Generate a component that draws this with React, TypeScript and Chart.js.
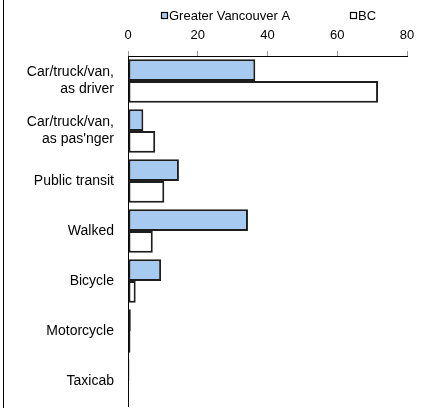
import React, { useEffect, useRef } from "react";
import { Chart, registerables } from "chart.js";

Chart.register(...registerables);

const categories: (string | string[])[] = [
  ["Car/truck/van,", "as driver"],
  ["Car/truck/van,", "as pas'nger"],
  "Public transit",
  "Walked",
  "Bicycle",
  "Motorcycle",
  "Taxicab",
];
const seriesNames = ["Greater Vancouver A", "BC"];
const greaterVancouver = [36.5, 4.4, 14.6, 34.4, 9.5, 0.8, 0.4];
const bc = [71.7, 7.8, 10.4, 7.1, 2.2, 0.7, 0.3];
const xTickMin = 0;
const xTickMax = 80;
const xTickStep = 20;

const FONT = "'Liberation Sans', Arial, sans-serif";
const BLUE = "#a6caf0";
const EDGE = "#1e1e1e";

const legendPlugin = {
  id: "customLegend",
  afterDraw(chart: any) {
    const ctx = chart.ctx;
    ctx.save();
    const items = [
      { name: seriesNames[0], fill: BLUE, x: 161 },
      { name: seriesNames[1], fill: "#ffffff", x: 350 },
    ];
    ctx.font = `13px ${FONT}`;
    ctx.textBaseline = "middle";
    ctx.textAlign = "left";
    for (const it of items) {
      ctx.fillStyle = it.fill;
      ctx.fillRect(it.x, 12, 6, 6);
      ctx.strokeStyle = "#000";
      ctx.lineWidth = 1.2;
      ctx.strokeRect(it.x + 0.5, 12.5, 6, 6);
      ctx.fillStyle = "#000";
      ctx.fillText(it.name, it.x + 8, 16);
    }
    // left frame line
    ctx.fillStyle = "#000";
    ctx.fillRect(3, 0, 1, chart.height);
    ctx.restore();
  },
};

export default function App() {
  const ref = useRef<HTMLCanvasElement>(null);
  useEffect(() => {
    if (!ref.current) return;
    const chart = new Chart(ref.current, {
      type: "bar",
      data: {
        labels: categories as any,
        datasets: [
          {
            label: seriesNames[0],
            data: greaterVancouver,
            backgroundColor: BLUE,
            borderColor: EDGE,
            borderWidth: 2,
            borderSkipped: false,
            categoryPercentage: 0.87,
            barPercentage: 1,
          },
          {
            label: seriesNames[1],
            data: bc,
            backgroundColor: "#ffffff",
            borderColor: EDGE,
            borderWidth: 2,
            borderSkipped: false,
            categoryPercentage: 0.87,
            barPercentage: 1,
          },
        ],
      },
      options: {
        indexAxis: "y",
        animation: false,
        responsive: true,
        maintainAspectRatio: false,
        layout: { padding: { top: 0, left: 0, right: 18, bottom: 2 } },
        plugins: {
          legend: { display: false },
          tooltip: { enabled: false },
          title: { display: false },
        },
        scales: {
          x: {
            position: "top",
            min: xTickMin,
            max: xTickMax,
            ticks: {
              stepSize: xTickStep,
              color: "#000",
              font: { family: FONT, size: 13 },
              padding: 8,
            },
            grid: {
              drawOnChartArea: false,
              drawTicks: true,
              tickLength: 5,
              color: "#999",
            },
            border: { display: true, color: "#000", width: 1 },
            afterFit: (s: any) => {
              s.height = 56;
              s.paddingLeft = 0;
              s.paddingRight = 0;
            },
          },
          y: {
            ticks: {
              color: "#000",
              font: { family: FONT, size: 14 },
              padding: 14,
            },
            grid: { display: false, drawTicks: false },
            border: { display: true, color: "#000", width: 1 },
            afterFit: (s: any) => {
              s.width = 128;
              s.paddingTop = 0;
              s.paddingBottom = 0;
            },
          },
        },
      },
      plugins: [legendPlugin],
    });
    return () => chart.destroy();
  }, []);
  return (
    <div style={{ position: "absolute", left: 0, top: 0, width: 425, height: 408, background: "#fff" }}>
      <canvas ref={ref} />
    </div>
  );
}
